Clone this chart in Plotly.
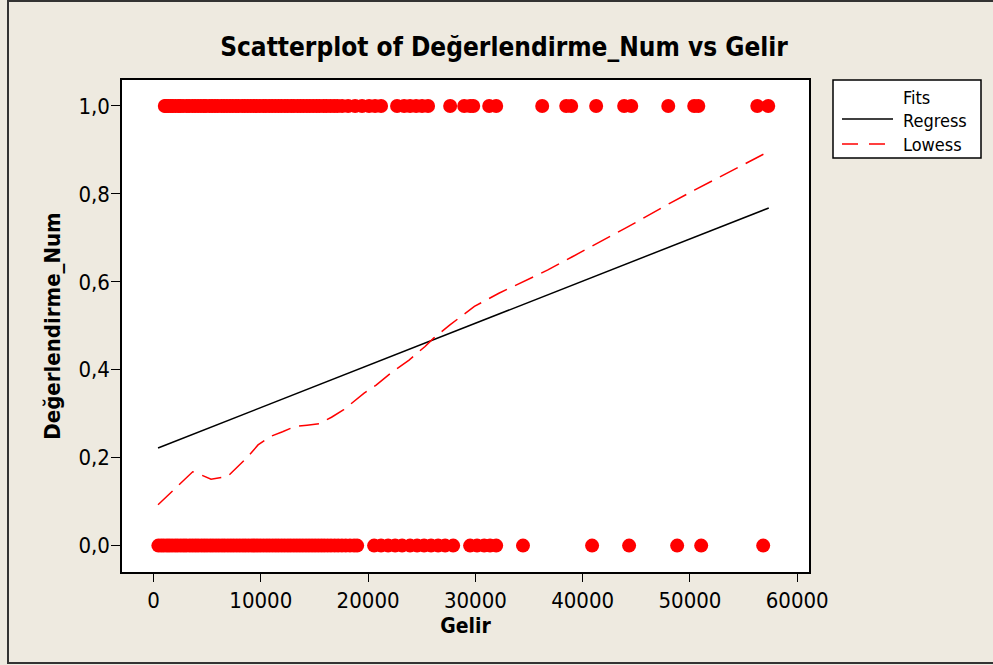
import plotly.graph_objects as go

# Gelir values for observations with Değerlendirme_Num = 1
gelir_one = [1050, 1180, 1380, 1610, 1790, 2050, 2330, 2480, 2760, 3090, 3310, 3620, 3870,
             4150, 4420, 4690, 4880, 5210, 5460, 5730, 5990, 6320, 6570, 6840, 7130, 7390,
             7680, 7920, 8260, 8510, 8790, 9070, 9340, 9620, 9910, 10230, 10470, 10780,
             11060, 11350, 11640, 11920, 12240, 12510, 12830, 13090, 13420, 13700, 13980,
             14290, 14570, 14880, 15190, 15470, 15830, 16120, 16480, 16830, 17150,
             17580, 18140, 18790, 19440, 20090, 20650, 21210,
             22700, 23360, 23910, 24480, 25030, 25590, 27650, 28960, 29510, 29800,
             31290, 31940, 36230, 38470, 38930, 41260, 43870, 44530, 47980, 50400,
             50780, 56280, 57300]

# Gelir values for observations with Değerlendirme_Num = 0
gelir_zero = [450, 720, 960, 1240, 1470, 1730, 2010, 2260, 2540, 2810, 3060, 3370, 3640,
              3910, 4170, 4460, 4730, 4990, 5280, 5540, 5820, 6090, 6380, 6640, 6930,
              7210, 7480, 7760, 8040, 8330, 8590, 8870, 9160, 9430, 9710, 9980, 10270,
              10550, 10820, 11110, 11390, 11660, 11950, 12230, 12520, 12790, 13080, 13360,
              13640, 13920, 14210, 14490, 14780, 15060, 15350, 15640, 15920, 16230,
              16540, 16880, 17210, 17560, 17920, 18310, 18690, 18980,
              20560, 21210, 21870, 22520, 23170, 23910, 24570, 25220, 25870, 26530,
              27180, 27930, 29510, 30160, 30820, 31370, 31940, 34440, 40880, 44330,
              48810, 51050, 56830]

# Fitted regression line (endpoints over the Gelir range)
regress_x = [420, 57350]
regress_y = [0.222, 0.768]

# Lowess smoother
lowess_x = [420, 3650, 4410, 5360, 6890, 8790, 9740, 10860, 12030, 13170, 14310, 15430,
            16590, 17730, 19630, 20750, 22300, 23820, 25310, 26110, 27630, 29910, 32190,
            36760, 39040, 43990, 48160, 50460, 57310]
lowess_y = [0.093, 0.168, 0.161, 0.151, 0.157, 0.202, 0.229, 0.248, 0.259, 0.271, 0.274,
            0.277, 0.292, 0.309, 0.347, 0.365, 0.396, 0.422, 0.453, 0.472, 0.502, 0.544,
            0.574, 0.627, 0.657, 0.722, 0.779, 0.809, 0.896]

x_ticks = [0, 10000, 20000, 30000, 40000, 50000, 60000]
x_tick_labels = ["0", "10000", "20000", "30000", "40000", "50000", "60000"]
y_ticks = [0.0, 0.2, 0.4, 0.6, 0.8, 1.0]
y_tick_labels = ["0,0", "0,2", "0,4", "0,6", "0,8", "1,0"]

FONT = "DejaVu Sans Condensed, DejaVu Sans, sans-serif"
BG = "#EEEAE0"
RED = "#FF0000"

fig = go.Figure()

fig.add_trace(go.Scatter(
    x=gelir_one, y=[1.0] * len(gelir_one), mode="markers",
    marker=dict(color=RED, size=14, line=dict(width=0)),
    showlegend=False, hoverinfo="x+y"))
fig.add_trace(go.Scatter(
    x=gelir_zero, y=[0.0] * len(gelir_zero), mode="markers",
    marker=dict(color=RED, size=14, line=dict(width=0)),
    showlegend=False, hoverinfo="x+y"))
fig.add_trace(go.Scatter(
    x=regress_x, y=regress_y, mode="lines", name="Regress",
    line=dict(color="black", width=1.5), showlegend=False))
fig.add_trace(go.Scatter(
    x=lowess_x, y=lowess_y, mode="lines", name="Lowess",
    line=dict(color=RED, width=1.5, dash="20px,9px"), showlegend=False))

# Plot region geometry in pixels (used for the legend box and outer frame)
W, H = 993, 665
L, R, T, B = 122, 809, 80, 572


def px(xp):
    return (xp - L) / (R - L)


def py(yp):
    return (B - yp) / (B - T)


shapes = [
    # outer frame
    dict(type="rect", xref="paper", yref="paper",
         x0=px(8), x1=px(1020), y0=py(663), y1=py(1),
         line=dict(color="#333333", width=2), fillcolor="rgba(0,0,0,0)", layer="below"),
    # legend box
    dict(type="rect", xref="paper", yref="paper",
         x0=px(833), x1=px(981), y0=py(158), y1=py(80),
         line=dict(color="black", width=1.5), fillcolor="white"),
    dict(type="line", xref="paper", yref="paper",
         x0=px(842), x1=px(893), y0=py(119), y1=py(119),
         line=dict(color="black", width=1.5)),
    dict(type="line", xref="paper", yref="paper",
         x0=px(842), x1=px(893), y0=py(144), y1=py(144),
         line=dict(color=RED, width=1.5, dash="16px,11px")),
]

legend_font = dict(family=FONT, size=18, color="black")
annotations = [
    dict(text="Fits", xref="paper", yref="paper", x=px(901), y=py(97),
         xanchor="left", yanchor="middle", showarrow=False, font=legend_font),
    dict(text="Regress", xref="paper", yref="paper", x=px(901), y=py(120),
         xanchor="left", yanchor="middle", showarrow=False, font=legend_font),
    dict(text="Lowess", xref="paper", yref="paper", x=px(901), y=py(144),
         xanchor="left", yanchor="middle", showarrow=False, font=legend_font),
]

fig.update_layout(
    width=W, height=H,
    margin=dict(l=L, r=W - R, t=T, b=H - B, pad=0),
    paper_bgcolor=BG, plot_bgcolor="white",
    title=dict(text="<b>Scatterplot of Değerlendirme_Num vs Gelir</b>",
               x=504 / W, xref="container", xanchor="center",
               y=1 - 47 / H, yref="container", yanchor="middle",
               font=dict(family=FONT, size=26, color="black")),
    shapes=shapes, annotations=annotations,
    showlegend=False,
    xaxis=dict(range=[-2940, 61100], tickvals=x_ticks, ticktext=x_tick_labels,
               ticks="outside", ticklen=8, tickwidth=1, tickcolor="black",
               showline=True, mirror=True, linecolor="black", linewidth=1.5,
               showgrid=False, zeroline=False,
               tickfont=dict(family=FONT, size=22, color="black"),
               title=dict(text="<b>Gelir</b>", standoff=6,
                          font=dict(family=FONT, size=21, color="black"))),
    yaxis=dict(range=[-0.06, 1.059], tickvals=y_ticks, ticktext=y_tick_labels,
               ticks="outside", ticklen=9, tickwidth=1, tickcolor="black",
               showline=True, mirror=True, linecolor="black", linewidth=1.5,
               showgrid=False, zeroline=False, ticklabelstandoff=-3,
               tickfont=dict(family=FONT, size=22, color="black"),
               title=dict(text="<b>Değerlendirme_Num</b>", standoff=12,
                          font=dict(family=FONT, size=22, color="black"))),
)

fig.write_html("out.html")
